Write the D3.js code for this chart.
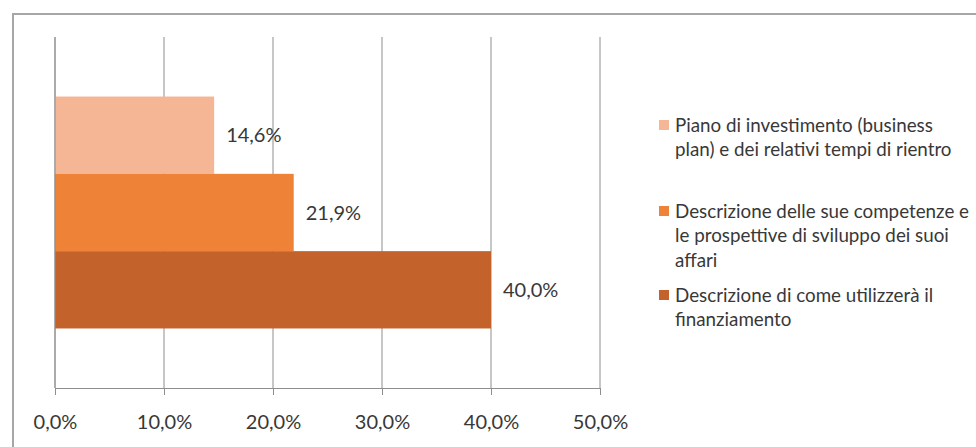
<!DOCTYPE html>
<html>
<head>
<meta charset="utf-8">
<script src="https://cdn.jsdelivr.net/npm/d3@7/dist/d3.min.js"></script>
<style>
  html, body { margin: 0; padding: 0; background: #fff; }
  svg { display: block; }
  text { font-family: Lato, "Open Sans", sans-serif; fill: #383838; }
</style>
</head>
<body>
<svg id="chart" width="976" height="447"></svg>
<script>
// Series (one category, three clustered bars)
const seriesNames = [
  "Piano di investimento (business plan) e dei relativi tempi di rientro",
  "Descrizione delle sue competenze e le prospettive di sviluppo dei suoi affari",
  "Descrizione di come utilizzerà il finanziamento"
];
const seriesValues = [0.146, 0.219, 0.400];
const seriesColors = ["#F5B696", "#EE8236", "#C3622B"];
const legendLines = [
  ["Piano di investimento (business", "plan) e dei relativi tempi di rientro"],
  ["Descrizione delle sue competenze e", "le prospettive di sviluppo dei suoi", "affari"],
  ["Descrizione di come utilizzerà il", "finanziamento"]
];
const xTicks = [0, 0.1, 0.2, 0.3, 0.4, 0.5];

const it = d3.formatLocale({ decimal: ",", thousands: ".", grouping: [3], currency: ["", " €"] });
const pct = it.format(".1%");

const svg = d3.select("#chart");

// Outer frame (only top and left edges are within the view)
svg.append("rect")
  .attr("x", 13).attr("y", 14)
  .attr("width", 1000).attr("height", 480)
  .attr("fill", "#fff")
  .attr("stroke", "#a6a6a6").attr("stroke-width", 2);

const plot = { left: 55, right: 600, top: 37, bottom: 388 };

const x = d3.scaleLinear().domain([0, 0.5]).range([plot.left, plot.right]);
const y = d3.scaleBand().domain(seriesNames).range([plot.top, plot.bottom])
  .paddingInner(0).paddingOuter(0.77);

// Vertical gridlines
svg.append("g").selectAll("line").data(xTicks).join("line")
  .attr("x1", d => x(d)).attr("x2", d => x(d))
  .attr("y1", plot.top).attr("y2", plot.bottom)
  .attr("stroke", "#8e8e8e").attr("stroke-width", 1);

// Bars
svg.append("g").selectAll("rect").data(seriesNames).join("rect")
  .attr("x", x(0))
  .attr("y", d => y(d))
  .attr("width", (d, i) => x(seriesValues[i]) - x(0))
  .attr("height", y.bandwidth())
  .attr("fill", (d, i) => seriesColors[i]);

// Value labels
svg.append("g").selectAll("text").data(seriesNames).join("text")
  .attr("x", (d, i) => x(seriesValues[i]) + 12)
  .attr("y", d => y(d) + y.bandwidth() / 2)
  .attr("dy", "0.35em")
  .attr("font-size", 20)
  .text((d, i) => pct(seriesValues[i]));

// Left axis line
svg.append("line")
  .attr("x1", plot.left).attr("x2", plot.left)
  .attr("y1", plot.top).attr("y2", plot.bottom)
  .attr("stroke", "#8e8e8e");

// Bottom axis
const xAxis = d3.axisBottom(x).tickValues(xTicks).tickFormat(pct)
  .tickSize(7).tickSizeOuter(0).tickPadding(20);
const gx = svg.append("g").attr("transform", `translate(0,${plot.bottom})`).call(xAxis);
gx.select(".domain").attr("stroke", "#8e8e8e");
gx.selectAll(".tick line").attr("stroke", "#8e8e8e");
gx.selectAll(".tick text")
  .attr("font-family", "Lato, 'Open Sans', sans-serif")
  .attr("font-size", 20).attr("fill", "#383838");

// Legend
const legendX = 659, textX = 675, lineH = 24.5;
const entryTop = [125, 211, 295];
const lg = svg.append("g");
legendLines.forEach((lines, i) => {
  lg.append("rect")
    .attr("x", legendX).attr("y", entryTop[i] - 5)
    .attr("width", 10).attr("height", 10)
    .attr("fill", seriesColors[i]);
  lg.append("text")
    .attr("font-size", 18.8)
    .selectAll("tspan").data(lines).join("tspan")
    .attr("x", textX)
    .attr("y", (d, j) => entryTop[i] + j * lineH)
    .attr("dy", "0.35em")
    .text(d => d);
});
</script>
</body>
</html>
